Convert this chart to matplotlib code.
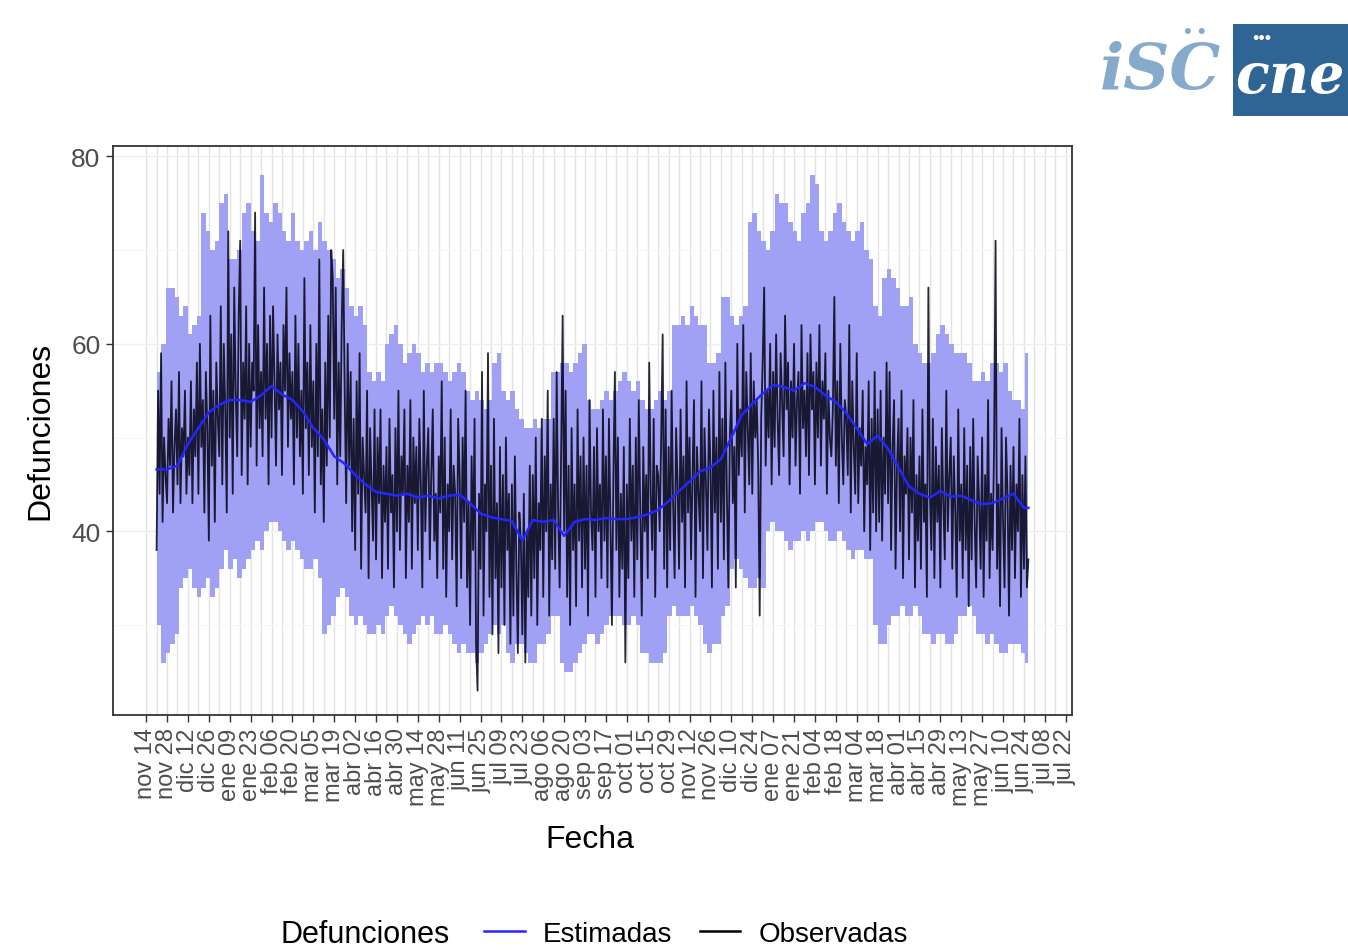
import numpy as np
import pandas as pd
import matplotlib
matplotlib.use("Agg")
import matplotlib.pyplot as plt
import matplotlib.dates as mdates
from matplotlib.lines import Line2D
from matplotlib.patches import Rectangle

plt.rcParams['font.family'] = ['Liberation Sans', 'DejaVu Sans']

# ---- data ----
start = "2019-11-21"

# daily observed deaths, one row per week
observed = [
    38, 55, 44, 59, 41, 50, 46,  43, 52, 47, 56, 42, 49, 53,
    45, 57, 43, 51, 48, 55, 44,  50, 46, 56, 43, 53, 48, 58,
    44, 60, 49, 54, 42, 57, 51,  39, 63, 47, 55, 41, 58, 52,
    48, 64, 45, 60, 53, 42, 72,  50, 61, 44, 66, 55, 48, 63,
    71, 46, 58, 52, 64, 45, 60,  49, 58, 55, 74, 47, 62, 51,
    57, 48, 66, 52, 60, 45, 63,  50, 64, 56, 47, 61, 53, 58,
    46, 62, 55, 66, 49, 59, 52,  57, 45, 63, 50, 60, 48, 55,
    44, 67, 51, 58, 46, 62, 49,  56, 42, 60, 48, 69, 45, 53,
    41, 58, 47, 63, 50, 70, 67,  52, 66, 45, 58, 48, 62, 70,
    55, 43, 60, 47, 57, 40, 52,  38, 56, 44, 59, 36, 50, 46,
    42, 55, 35, 51, 45, 39, 53,  37, 50, 43, 53, 35, 47, 41,
    49, 36, 52, 42, 46, 34, 51,  40, 55, 38, 48, 44, 53, 35,
    47, 41, 54, 36, 50, 43, 49,  38, 52, 45, 34, 55, 40, 47,
    51, 37, 46, 53, 39, 44, 35,  48, 42, 56, 36, 50, 33, 45,
    40, 53, 37, 47, 44, 32, 52,  46, 35, 50, 41, 55, 34, 43,
    30, 48, 38, 52, 28, 23, 44,  36, 57, 31, 45, 40, 59, 33,
    47, 29, 52, 35, 43, 27, 49,  34, 46, 30, 50, 38, 44, 28,
    45, 31, 48, 36, 27, 42, 39,  29, 44, 26, 40, 33, 47, 31,
    46, 35, 50, 30, 43, 38, 52,  33, 48, 40, 55, 31, 45, 37,
    52, 36, 57, 42, 34, 49, 63,  40, 55, 33, 47, 30, 51, 38,
    45, 32, 53, 39, 48, 34, 50,  36, 47, 31, 54, 42, 38, 49,
    33, 51, 40, 45, 35, 53, 39,  48, 34, 52, 41, 30, 46, 57,
    38, 50, 33, 44, 36, 49, 26,  45, 35, 52, 39, 47, 33, 50,
    37, 54, 42, 31, 49, 40, 46,  35, 58, 44, 38, 52, 33, 47,
    46, 40, 50, 61, 36, 53, 34,  49, 38, 55, 43, 35, 51, 45,
    36, 53, 41, 48, 34, 56, 42,  50, 37, 46, 54, 33, 49, 44,
    40, 56, 35, 51, 45, 38, 53,  47, 34, 55, 42, 50, 36, 57,
    41, 52, 37, 58, 44, 34, 50,  55, 43, 49, 34, 60, 46, 53,
    48, 62, 42, 57, 51, 45, 59,  44, 56, 50, 54, 47, 31, 52,
    58, 66, 47, 55, 50, 60, 45,  57, 49, 61, 52, 46, 59, 54,
    48, 63, 53, 58, 45, 56, 50,  60, 47, 54, 57, 44, 62, 51,
    55, 48, 59, 46, 61, 53, 57,  45, 58, 50, 62, 47, 56, 52,
    59, 44, 55, 50, 48, 53, 65,  47, 56, 43, 60, 50, 45, 54,
    52, 46, 62, 42, 56, 49, 44,  59, 43, 51, 47, 55, 40, 49,
    45, 56, 38, 52, 42, 57, 40,  53, 41, 55, 39, 50, 44, 58,
    43, 57, 38, 49, 54, 36, 47,  52, 40, 55, 35, 48, 44, 51,
    37, 50, 42, 54, 34, 46, 39,  48, 36, 53, 41, 45, 33, 66,
    44, 38, 52, 35, 49, 41, 47,  34, 51, 43, 37, 55, 40, 46,
    50, 36, 48, 42, 33, 53, 39,  45, 35, 51, 38, 47, 32, 49,
    37, 52, 41, 34, 48, 43, 36,  50, 33, 46, 39, 54, 35, 44,
    38, 49, 71, 36, 45, 32, 51,  41, 34, 50, 44, 31, 47, 38,
    49, 35, 45, 40, 52, 33, 46,  36, 48, 34, 37,
]

# weekly estimated deaths
estimated = [
    46.6, 46.6, 47.0, 49.3, 51.0, 52.7, 53.5, 54.0, 54.0, 53.8,
    54.5, 55.5, 54.6, 54.0, 52.8, 51.0, 49.8, 48.0, 47.2, 46.0,
    45.0, 44.2, 44.0, 43.8, 44.0, 43.6, 43.8, 43.5, 43.8, 43.9,
    43.0, 41.9, 41.5, 41.3, 41.1, 39.0, 41.2, 41.0, 41.2, 39.5,
    41.0, 41.3, 41.2, 41.4, 41.3, 41.3, 41.5, 41.8, 42.3, 43.2,
    44.3, 45.3, 46.4, 46.8, 47.7, 50.0, 52.4, 53.6, 54.7, 55.6,
    55.4, 55.0, 55.8, 55.4, 54.5, 53.8, 52.6, 51.0, 49.3, 50.2,
    48.8, 46.8, 44.8, 44.0, 43.6, 44.3, 43.7, 43.8, 43.3, 42.9,
    43.0, 43.5, 44.0, 42.5,
]

# interval limits, one value per 3 days
ribbon_high = [
    57, 60, 66, 66, 65, 63, 64, 61, 62, 63,
    74, 72, 70, 71, 75, 76, 69, 69, 70, 74,
    75, 72, 71, 78, 74, 73, 75, 74, 72, 71,
    74, 71, 70, 71, 72, 70, 73, 71, 70, 69,
    67, 68, 66, 64, 63, 64, 62, 57, 56, 57,
    56, 60, 61, 62, 60, 58, 59, 60, 59, 57,
    58, 57, 58, 58, 57, 56, 57, 58, 57, 55,
    54, 55, 54, 53, 54, 58, 59, 55, 54, 55,
    53, 52, 51, 51, 52, 51, 52, 52, 57, 57,
    58, 58, 57, 58, 59, 60, 54, 53, 53, 54,
    55, 54, 55, 56, 57, 56, 55, 56, 54, 53,
    53, 54, 55, 54, 55, 62, 62, 63, 62, 64,
    63, 62, 62, 58, 58, 59, 65, 65, 63, 62,
    63, 64, 73, 74, 72, 71, 70, 72, 76, 75,
    75, 73, 72, 71, 74, 75, 78, 77, 72, 71,
    72, 74, 75, 73, 72, 71, 72, 73, 70, 69,
    64, 63, 67, 68, 67, 66, 64, 64, 65, 60,
    59, 58, 58, 59, 61, 62, 61, 60, 59, 59,
    59, 58, 56, 56, 57, 56, 58, 58, 57, 58,
    55, 54, 54, 53, 59,
]
ribbon_low = [
    30, 26, 27, 28, 29, 34, 35, 36, 34, 33,
    34, 35, 33, 34, 36, 38, 36, 37, 35, 36,
    37, 38, 39, 38, 40, 41, 41, 40, 39, 38,
    39, 38, 37, 36, 36, 37, 35, 29, 30, 31,
    33, 34, 33, 31, 30, 31, 30, 29, 29, 30,
    29, 31, 32, 31, 30, 29, 28, 29, 30, 31,
    30, 31, 29, 29, 30, 29, 28, 27, 28, 27,
    27, 26, 27, 28, 29, 30, 29, 30, 27, 26,
    28, 28, 27, 26, 26, 28, 28, 29, 31, 31,
    26, 25, 25, 26, 27, 28, 29, 29, 28, 29,
    30, 31, 31, 31, 30, 30, 31, 30, 27, 27,
    26, 26, 26, 27, 31, 32, 31, 31, 31, 32,
    31, 30, 28, 27, 28, 28, 31, 32, 36, 37,
    36, 35, 34, 34, 35, 34, 40, 41, 40, 40,
    39, 38, 39, 39, 40, 39, 40, 41, 41, 40,
    39, 39, 40, 39, 38, 37, 38, 38, 37, 37,
    30, 28, 28, 30, 31, 31, 32, 31, 31, 32,
    31, 29, 29, 28, 29, 29, 28, 28, 29, 31,
    31, 32, 31, 29, 29, 28, 29, 28, 27, 27,
    28, 28, 28, 27, 26,
]

tick_first, tick_last = "2019-11-14", "2021-07-22"
month_names = ['ene', 'feb', 'mar', 'abr', 'may', 'jun',
               'jul', 'ago', 'sep', 'oct', 'nov', 'dic']

# ---- dates ----
obs_dates = pd.date_range(start, periods=len(observed), freq='D')
end_date = obs_dates[-1]
est_dates = pd.date_range(start, periods=len(estimated), freq='7D').append(pd.DatetimeIndex([end_date]))
est_vals = estimated + [estimated[-1]]
rib_dates = pd.date_range(start, periods=len(ribbon_low), freq='3D').append(pd.DatetimeIndex([end_date]))
rib_lo = ribbon_low + [ribbon_low[-1]]
rib_hi = ribbon_high + [ribbon_high[-1]]

tick_dates = pd.date_range(tick_first, tick_last, freq='14D')
tick_labels = [f"{month_names[d.month - 1]} {d.day:02d}" for d in tick_dates]
minor_dates = pd.date_range(tick_first, tick_last, freq='7D')

# ---- figure ----
W, H = 1348, 953
fig = plt.figure(figsize=(W / 100, H / 100), dpi=100)
ax = fig.add_axes([113 / W, 1 - 716 / H, (1072 - 113) / W, (716 - 147) / H])

ax.fill_between(rib_dates, rib_lo, rib_hi, step='post', color='#a0a0f5', lw=0, zorder=2)
ax.plot(obs_dates, observed, color='#000010', lw=1.3, alpha=0.85, zorder=3)
ax.plot(est_dates, est_vals, color='#2525ff', lw=1.8, zorder=4)

span = (end_date - obs_dates[0]).days
x0 = mdates.date2num(obs_dates[0]) - 0.05 * span
x1 = mdates.date2num(end_date) + 0.05 * span
ax.set_xlim(x0, x1)
ax.set_ylim(20.4, 81.1)

ax.set_xticks(tick_dates)
ax.set_xticklabels(tick_labels, rotation=90, fontsize=17, color='#4d4d4d')
ax.set_xticks(minor_dates, minor=True)
ax.set_yticks([40, 60, 80])
ax.set_yticklabels(['40', '60', '80'], fontsize=19, color='#4d4d4d')
ax.set_yticks([30, 50, 70], minor=True)
ax.tick_params(axis='both', which='major', length=5, width=1, color='#333333', pad=4)
ax.tick_params(axis='both', which='minor', length=0)

ax.grid(True, axis='x', which='both', color='#e2e2e2', lw=1.0, zorder=0)
ax.grid(True, axis='y', which='major', color='#efefef', lw=1.0, zorder=0)
ax.grid(True, axis='y', which='minor', color='#f5f5f5', lw=0.8, zorder=0)
ax.set_axisbelow(True)
for s in ax.spines.values():
    s.set_color('#333333')
    s.set_linewidth(1.3)

fig.text(40 / W, 1 - 431 / H, 'Defunciones', rotation=90, ha='center', va='center', fontsize=23)
fig.text(590 / W, 1 - 840 / H, 'Fecha', ha='center', va='center', fontsize=23)

# legend
fig.text(365 / W, 1 - 935 / H, 'Defunciones', ha='center', va='center', fontsize=22)
handles = [Line2D([], [], color='#2525ff', lw=1.8), Line2D([], [], color='black', lw=1.8)]
fig.legend(handles, ['Estimadas', 'Observadas'], ncol=2, loc='center',
           bbox_to_anchor=(696 / W, 1 - 935 / H), frameon=False, fontsize=20,
           handlelength=1.45, handletextpad=0.65, columnspacing=1.0)

# logo
fig.patches.append(Rectangle((1233 / W, 1 - 117 / H), 115 / W, 92 / H,
                             transform=fig.transFigure, facecolor='#2f6595', edgecolor='none'))
fig.text(1290 / W, 1 - 78 / H, 'cne', ha='center', va='center', fontsize=40,
         color='white', family='DejaVu Serif', style='italic', weight='bold')
fig.text(1262 / W, 1 - 40 / H, '\u2022\u2022\u2022', ha='center', va='center', fontsize=13, color='white')
fig.text(1160 / W, 1 - 72 / H, 'iSC', ha='center', va='center', fontsize=46,
         color='#86aacb', family='DejaVu Serif', style='italic', weight='bold')
fig.text(1195 / W, 1 - 33 / H, '\u2022 \u2022', ha='center', va='center', fontsize=16, color='#86aacb')

fig.savefig('out.png', dpi=100, facecolor='white')
